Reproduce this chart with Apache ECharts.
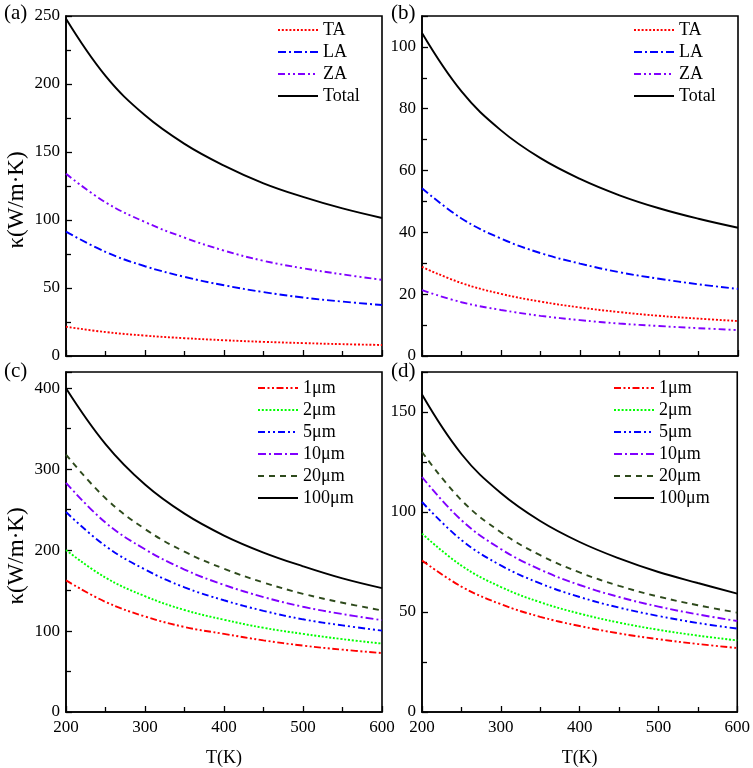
<!DOCTYPE html>
<html>
<head>
<meta charset="utf-8">
<script src="https://cdn.jsdelivr.net/npm/echarts@6/dist/echarts.min.js"></script>
<style>
html,body{margin:0;padding:0;background:#fff;}
#main{width:753px;height:768px;}
</style>
</head>
<body>
<div id="main"></div>
<script>
// Temperature (K)
var temps = [200, 250, 300, 350, 400, 450, 500, 550, 600];

// Panel (a)
var aTA = [21.5, 17.6, 15.0, 13.1, 11.6, 10.4, 9.5, 8.7, 8.1];
var aLA = [91.5, 76.5, 66.0, 58.2, 52.0, 47.0, 43.0, 40.0, 37.5];
var aZA = [134, 113, 98.5, 87, 77.5, 70, 64.5, 60, 56];
var aTotal = [248, 206, 177, 156, 140, 127, 117, 108.5, 101.5];

// Panel (b)
var bTA = [28.8, 23.6, 20.1, 17.6, 15.7, 14.2, 13.0, 12.1, 11.3];
var bLA = [54.3, 44.5, 38.0, 33.3, 29.9, 27.1, 25.0, 23.2, 21.7];
var bZA = [21.3, 17.4, 14.9, 13.0, 11.6, 10.5, 9.7, 9.0, 8.4];
var bTotal = [104.5, 85.6, 73.0, 64.0, 57.3, 52.0, 47.8, 44.4, 41.5];

// Panel (c)
var c1 = [162.6, 136, 118, 105, 96.5, 88.5, 82, 77, 72.8];
var c2 = [200, 166, 143, 126, 114, 104, 96.5, 90, 84.5];
var c5 = [247, 205, 176, 154, 138, 125, 114.5, 107, 100.5];
var c10 = [283, 234, 201, 176, 157, 142, 130, 121, 113.5];
var c20 = [318, 264, 226, 198, 177, 160, 146, 135, 125.5];
var c100 = [400, 331, 281, 245, 218, 197, 180, 165, 153];

// Panel (d)
var d1 = [75.8, 62.7, 53.9, 47.6, 43.0, 39.3, 36.4, 34.0, 32.0];
var d2 = [89.2, 73.2, 62.5, 54.9, 49.2, 44.7, 41.1, 38.2, 35.8];
var d5 = [105, 86, 73.3, 64.3, 57.5, 52.2, 48.0, 44.5, 41.7];
var d10 = [117.5, 95.9, 81.5, 71.2, 63.5, 57.5, 52.7, 48.8, 45.5];
var d20 = [130, 105.9, 89.9, 78.4, 69.8, 63.1, 57.7, 53.4, 49.7];
var d100 = [158.7, 129, 109.5, 95.5, 85, 76.8, 70, 64.5, 59.2];

var phononNames = ['TA', 'LA', 'ZA', 'Total'];
var sizeNames = ['1\u03bcm', '2\u03bcm', '5\u03bcm', '10\u03bcm', '20\u03bcm', '100\u03bcm'];
var yTitle = '\u03ba(W/m\u00b7K)';
var xTitle = 'T(K)';

var FONT = 'Liberation Serif';
var styles = {
  'TA': {color: '#ff0000', type: [2, 1.8]},
  'LA': {color: '#0000ff', type: [8, 3, 2, 3]},
  'ZA': {color: '#8000ff', type: [7, 3, 2, 3, 2, 3]},
  'Total': {color: '#000000', type: 'solid'},
  '1\u03bcm': {color: '#ff0000', type: [7, 2.5, 2, 2.5, 2, 2.5]},
  '2\u03bcm': {color: '#00ff00', type: [2, 1.8]},
  '5\u03bcm': {color: '#0000ff', type: [7, 3, 2, 3, 2, 3]},
  '10\u03bcm': {color: '#8000ff', type: [8, 3, 2, 3]},
  '20\u03bcm': {color: '#2e4a1c', type: [6, 5]},
  '100\u03bcm': {color: '#000000', type: 'solid'}
};

function pairs(vals) {
  return temps.map(function (t, i) { return [t, vals[i]]; });
}
function mkSeries(name, vals, idx) {
  var s = styles[name];
  return {
    type: 'line', name: name, xAxisIndex: idx, yAxisIndex: idx,
    data: pairs(vals), smooth: 0.4, symbol: 'none', showSymbol: false,
    lineStyle: {color: s.color, width: 1.9, type: s.type},
    itemStyle: {color: s.color},
    emphasis: {disabled: true}, animation: false
  };
}

var grids = [
  {left: 66, top: 16, width: 316, height: 340},
  {left: 422, top: 16, width: 316, height: 340},
  {left: 66, top: 372, width: 316, height: 340},
  {left: 422, top: 372, width: 316, height: 340}
].map(function (g) {
  g.show = true; g.borderColor = '#000'; g.borderWidth = 1.6; g.backgroundColor = 'transparent';
  g.containLabel = false; return g;
});

function xAx(i, showLabels) {
  return {
    type: 'value', gridIndex: i, min: 200, max: 600, interval: 100,
    name: showLabels ? xTitle : '', nameLocation: 'middle', nameGap: 37,
    nameTextStyle: {fontFamily: FONT, fontSize: 18, color: '#000'},
    axisLine: {show: true, lineStyle: {color: '#000', width: 1.6}},
    axisTick: {show: true, inside: true, length: 6, lineStyle: {color: '#000', width: 1.3}},
    minorTick: {show: true, splitNumber: 2, length: 5, lineStyle: {color: '#000', width: 1.3}},
    axisLabel: {show: showLabels, margin: 7, fontFamily: FONT, fontSize: 17, color: '#000'},
    splitLine: {show: false}, minorSplitLine: {show: false}
  };
}
function yAx(i, max, interval, showTitle) {
  return {
    type: 'value', gridIndex: i, min: 0, max: max, interval: interval,
    name: showTitle ? yTitle : '', nameLocation: 'middle', nameGap: 38,
    nameTextStyle: {fontFamily: FONT, fontSize: 23, color: '#000', padding: [0, 28, 0, 0]},
    axisLine: {show: true, lineStyle: {color: '#000', width: 1.6}},
    axisTick: {show: true, inside: true, length: 6, lineStyle: {color: '#000', width: 1.3}},
    minorTick: {show: true, splitNumber: 2, length: 5, lineStyle: {color: '#000', width: 1.3}},
    axisLabel: {margin: 6, fontFamily: FONT, fontSize: 17, color: '#000', showMaxLabel: (max % interval === 0)},
    splitLine: {show: false}, minorSplitLine: {show: false}
  };
}

function mkLegend(names, left, top) {
  return {
    data: names, left: left, top: top, orient: 'vertical',
    itemWidth: 40, itemHeight: 18, itemGap: 4, padding: 0,
    selectedMode: false,
    itemStyle: {opacity: 0, borderWidth: 0, color: 'transparent'},
    lineStyle: {width: 2},
    textStyle: {fontFamily: FONT, fontSize: 18, color: '#000', padding: [0, 0, 0, 0]}
  };
}

function panelLabel(text, left, top) {
  return {text: text, left: left, top: top, padding: 0,
    textStyle: {fontFamily: FONT, fontSize: 21, fontWeight: 'normal', color: '#000'}};
}

var series = [];
series.push(mkSeries('TA', aTA, 0), mkSeries('LA', aLA, 0), mkSeries('ZA', aZA, 0), mkSeries('Total', aTotal, 0));
series.push(mkSeries('TA', bTA, 1), mkSeries('LA', bLA, 1), mkSeries('ZA', bZA, 1), mkSeries('Total', bTotal, 1));
var cVals = [c1, c2, c5, c10, c20, c100];
var dVals = [d1, d2, d5, d10, d20, d100];
sizeNames.forEach(function (n, k) { series.push(mkSeries(n, cVals[k], 2)); });
sizeNames.forEach(function (n, k) { series.push(mkSeries(n, dVals[k], 3)); });

var option = {
  backgroundColor: '#fff',
  animation: false,
  title: [
    panelLabel('(a)', 4, 3),
    panelLabel('(b)', 391, 3),
    panelLabel('(c)', 4, 361),
    panelLabel('(d)', 391, 361)
  ],
  grid: grids,
  xAxis: [xAx(0, false), xAx(1, false), xAx(2, true), xAx(3, true)],
  yAxis: [yAx(0, 250, 50, true), yAx(1, 110, 20, false), yAx(2, 420, 100, true), yAx(3, 170, 50, false)],
  legend: [
    mkLegend(phononNames, 277, 21),
    mkLegend(phononNames, 633, 21),
    mkLegend(sizeNames, 257, 379),
    mkLegend(sizeNames, 613, 379)
  ],
  series: series
};

var chart = echarts.init(document.getElementById('main'), null, {renderer: 'canvas'});
chart.setOption(option);
</script>
</body>
</html>
